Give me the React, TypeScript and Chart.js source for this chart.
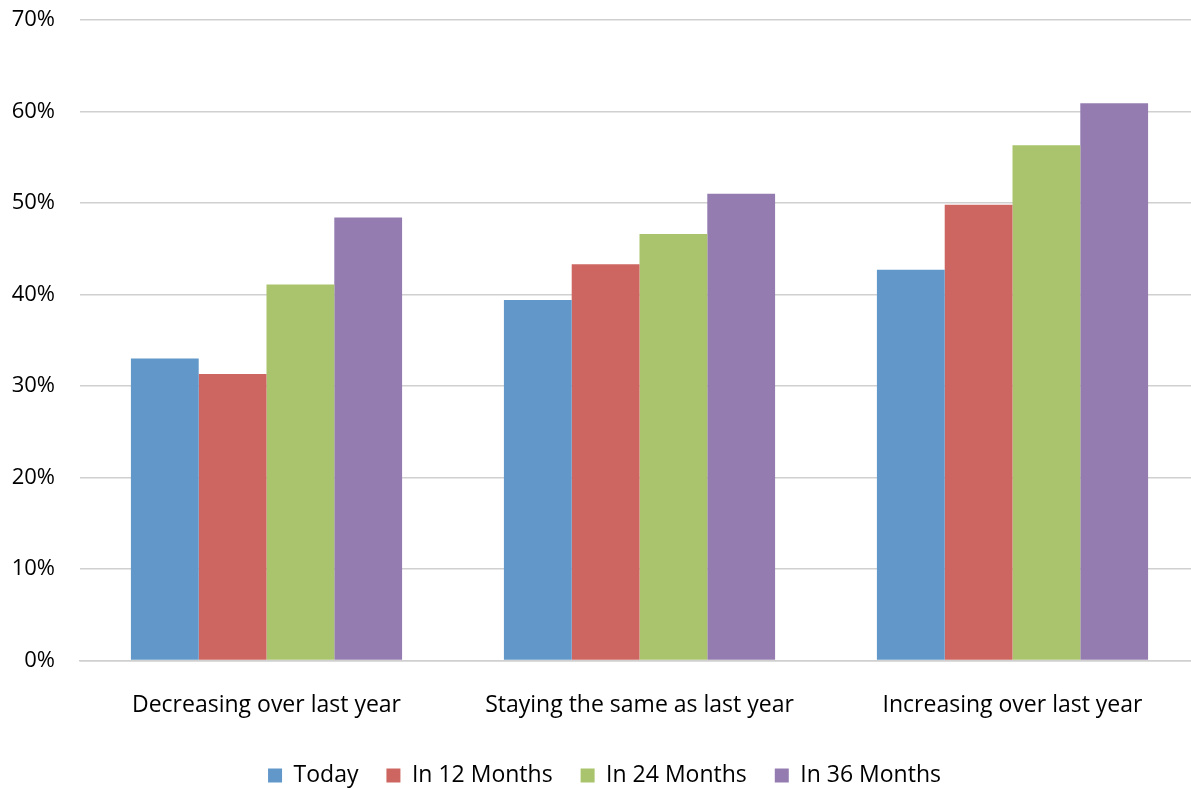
import React, { useEffect, useRef } from "react";
import { Chart, registerables } from "chart.js";

Chart.register(...registerables);

const categories = ["Decreasing over last year", "Staying the same as last year", "Increasing over last year"];
const seriesNames = ["Today", "In 12 Months", "In 24 Months", "In 36 Months"];
const today = [33.0, 39.4, 42.7];
const in12 = [31.3, 43.3, 49.8];
const in24 = [41.1, 46.6, 56.3];
const in36 = [48.4, 51.0, 60.9];
const colors = ["#6197C9", "#CD6660", "#A9C46C", "#947CB1"];

const legendShift = {
  id: "legendShift",
  afterLayout(chart: any) {
    if (chart.legend) {
      chart.legend.top -= 14;
      chart.legend.bottom -= 14;
    }
  },
};

export default function App() {
  const ref = useRef<HTMLCanvasElement>(null);
  useEffect(() => {
    if (!ref.current) return;
    const font = "'Open Sans', 'Noto Sans', sans-serif";
    const chart = new Chart(ref.current, {
      type: "bar",
      plugins: [legendShift],
      data: {
        labels: categories,
        datasets: [today, in12, in24, in36].map((d, i) => ({
          label: seriesNames[i],
          data: d,
          backgroundColor: colors[i],
          borderWidth: 0,
          barPercentage: 1,
          categoryPercentage: 0.727,
        })),
      },
      options: {
        animation: false,
        responsive: false,
        layout: { padding: { left: 10, right: 0, top: 20, bottom: -23 } },
        plugins: {
          tooltip: { enabled: false },
          legend: {
            position: "bottom",
            labels: {
              boxWidth: 14,
              boxHeight: 14,
              padding: 28,
              color: "#000",
              font: { family: font, size: 23 },
            },
          },
        },
        scales: {
          x: {
            grid: { display: false, drawTicks: false },
            border: { display: true, color: "#D0D0D0", width: 1.5 },
            ticks: { color: "#000", font: { family: font, size: 23 }, padding: 31, maxRotation: 0 },
          },
          y: {
            min: 0,
            max: 70,
            afterFit: (scale: any) => {
              scale.width = 70;
              scale.paddingTop = 0;
              scale.paddingBottom = 0;
            },
            grid: { color: "#D0D0D0", lineWidth: 1.5, drawTicks: false },
            border: { display: false },
            ticks: {
              stepSize: 10,
              color: "#000",
              font: { family: font, size: 22 },
              padding: 25,
              callback: (v: any) => v + "%",
            },
          },
        },
      },
    });
    return () => chart.destroy();
  }, []);
  return (
    <div style={{ position: "absolute", left: 0, top: 0, width: 1191, height: 788, background: "#fff", overflow: "hidden" }}>
      <canvas ref={ref} width={1199} height={788} />
    </div>
  );
}
